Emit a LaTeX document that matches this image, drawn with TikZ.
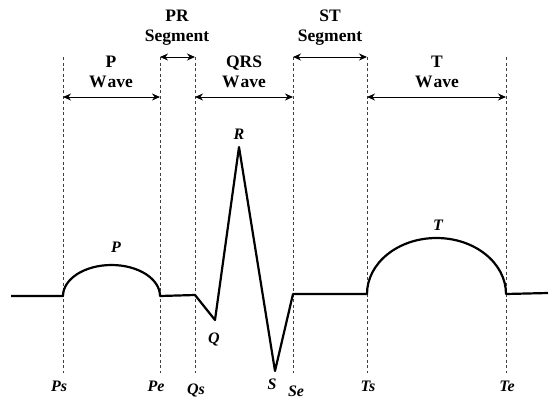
\documentclass[tikz,border=0pt]{standalone}
\usepackage{fontspec}
\setmainfont{Liberation Serif}
\usetikzlibrary{arrows.meta}
\begin{document}
\begin{tikzpicture}[x=1pt,y=-1pt,
  trace/.style={line width=2.2pt, line join=round},
  guide/.style={line width=0.9pt, dash pattern=on 3pt off 2.5pt, black!75},
  span/.style={line width=1pt, {Stealth[length=8pt,width=7pt]}-{Stealth[length=8pt,width=7pt]}},
  head/.style={font=\fontsize{17.5}{20}\selectfont\bfseries, align=center, inner sep=0pt, anchor=base},
  ptlab/.style={font=\fontsize{16}{18}\selectfont\bfseries\itshape, inner sep=0pt}]
\useasboundingbox[fill=white] (0,0) rectangle (560,402);
% guide lines
\foreach \n/\x in {ps/63, pe/160, qs/195, se/293, ts/367, te/506}{
  \coordinate (\n top) at (\x,57);
  \coordinate (\n bot) at (\x,373);
  \draw[guide] (\n top) -- (\n bot);
}
% span arrows
\coordinate (a1) at (63,97);  \coordinate (a2) at (160,97);
\coordinate (b1) at (160,57); \coordinate (b2) at (195,57);
\coordinate (c1) at (195,97); \coordinate (c2) at (293,97);
\coordinate (d1) at (293,57); \coordinate (d2) at (367,57);
\coordinate (e1) at (367,97); \coordinate (e2) at (506,97);
\draw[span] (a1) -- (a2);
\draw[span] (b1) -- (b2);
\draw[span] (c1) -- (c2);
\draw[span] (d1) -- (d2);
\draw[span] (e1) -- (e2);
% headings
\node[head] (hP) at (111,87) {P\\W\kern1pt ave};
\node[head] (hPR) at (177,41) {PR\\Segment};
\node[head] (hQRS) at (244,87) {QRS\\W\kern1pt ave};
\node[head] (hST) at (330,41) {ST\\Segment};
\node[head] (hT) at (437,87) {T\\W\kern1pt ave};
% trace
\coordinate (s0) at (11,296);
\coordinate (p0) at (63,296);
\coordinate (p1) at (160,296);
\coordinate (q0) at (195,295);
\coordinate (q) at (215,320);
\coordinate (r) at (239,147);
\coordinate (s) at (275,371);
\coordinate (s1) at (293,294);
\coordinate (t0) at (367,294);
\coordinate (t1) at (506,293);
\coordinate (e) at (548,293);
\draw[trace] (s0) -- (p0) arc[start angle=180, end angle=0, x radius=48.5pt, y radius=31pt]
  -- (q0) -- (q) -- (r) -- (s) -- (s1) -- (t0)
  arc[start angle=180, end angle=0, x radius=69.5pt, y radius=56pt] -- (e);
% point labels
\node[ptlab] (lP) at (116,247) {P};
\node[ptlab] (lT) at (438,225) {T};
\node[ptlab] (lR) at (239,134) {R};
\node[ptlab] (lQ) at (214,339) {Q};
\node[ptlab] (lS) at (272,384) {S};
\node[ptlab] (lPs) at (59,386) {Ps};
\node[ptlab] (lPe) at (156,386) {Pe};
\node[ptlab] (lQs) at (196,390) {Qs};
\node[ptlab] (lSe) at (296,391) {Se};
\node[ptlab] (lTs) at (368,386) {Ts};
\node[ptlab] (lTe) at (507,386) {Te};
\end{tikzpicture}
\end{document}
